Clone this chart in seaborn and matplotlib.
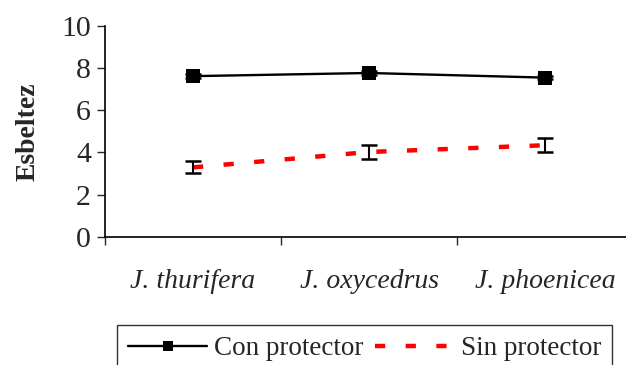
import matplotlib
matplotlib.use("Agg")
import matplotlib.pyplot as plt
import numpy as np
import pandas as pd
import seaborn as sns

# -------------data-------------
especies = ["J. thurifera", "J. oxycedrus", "J. phoenicea"]
con_protector = [7.62, 7.77, 7.55]
con_err = [0.08, 0.08, 0.08]
sin_protector = [3.29, 4.02, 4.34]
sin_err = [0.28, 0.32, 0.33]
yticks = [0, 2, 4, 6, 8, 10]

sns.set_style("ticks")
plt.rcParams['font.family'] = ['Liberation Serif', 'DejaVu Serif']

pos = np.arange(len(especies))
con = pd.DataFrame({"pos": pos, "esbeltez": con_protector, "err": con_err})
sin = pd.DataFrame({"pos": pos, "esbeltez": sin_protector, "err": sin_err})

fig = plt.figure(figsize=(6.26, 3.65), dpi=100)
ax = fig.add_axes([105 / 626, 128.3 / 365, 528 / 626, 210.7 / 365])

sns.lineplot(data=con, x="pos", y="esbeltez", color="black", marker="s",
             linewidth=1.7, markersize=9.5, markeredgewidth=0,
             label="Con protector", ax=ax)
sns.lineplot(data=sin, x="pos", y="esbeltez", color="red",
             linewidth=3.2, label="Sin protector", ax=ax)
ax.get_lines()[1].set_dashes((2.3, 4.6))
ax.get_lines()[1].set_dash_capstyle("butt")

# error bars (both series)
for d in (con, sin):
    ax.errorbar(d["pos"], d["esbeltez"], yerr=d["err"], fmt="none",
                ecolor="black", elinewidth=1.5, capsize=5.5, capthick=1.8,
                zorder=5)

ax.set_xlim(-0.5, 2.5)
ax.set_ylim(0, 10)
ax.set_yticks(yticks)
ax.set_yticklabels([str(t) for t in yticks], fontsize=21.5)
ax.set_xticks(pos)
ax.set_xticklabels(especies, fontsize=20, style="italic")
ax.set_xticks([-0.5, 0.5, 1.5, 2.5], minor=True)
ax.tick_params(axis="x", which="major", length=0, pad=23)
ax.tick_params(axis="x", which="minor", length=6, width=1, direction="out")
ax.tick_params(axis="y", length=6, width=1, pad=4, direction="out")
ax.set_xlabel("")
ax.set_ylabel("Esbeltez", fontsize=20, fontweight="bold", labelpad=15)

sns.despine(ax=ax)
for side in ["left", "bottom"]:
    ax.spines[side].set_linewidth(1.2)
    ax.spines[side].set_color("black")

handles, labels = ax.get_legend_handles_labels()
ax.get_legend().remove()
leg = fig.legend(handles, labels, loc="upper left",
                 bbox_to_anchor=(117 / 626, 1 - 325 / 365), ncol=2,
                 fontsize=19.5, frameon=True, fancybox=False, edgecolor="black",
                 handlelength=2.9, columnspacing=0.45, handletextpad=0.25,
                 borderpad=0.42, borderaxespad=0)
leg.get_frame().set_linewidth(1.0)
for h in leg.legend_handles:
    h.set_markersize(7)

fig.savefig("out.png", dpi=100)
